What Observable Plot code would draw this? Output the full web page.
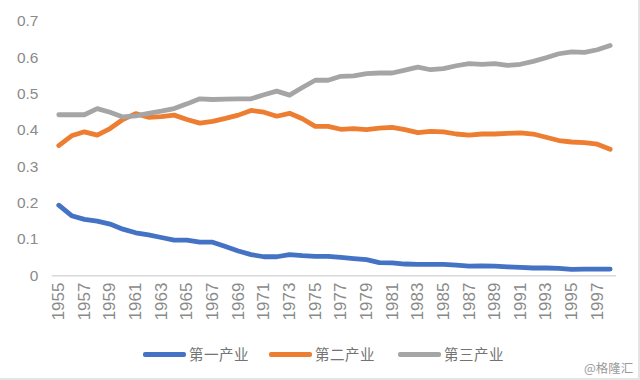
<!DOCTYPE html>
<html>
<head>
<meta charset="utf-8">
<script src="https://cdn.jsdelivr.net/npm/d3@7"></script>
<script src="https://cdn.jsdelivr.net/npm/@observablehq/plot@0.6"></script>
<style>
  html, body { margin: 0; padding: 0; background: #fff; }
  #wrap { position: relative; width: 640px; height: 380px; box-sizing: border-box; border-right: 2px solid #e4e4e4; border-bottom: 2px solid #e4e4e4; overflow: hidden; font-family: "Liberation Sans", "Noto Sans CJK SC", sans-serif; }
  #legend { position: absolute; left: 0; top: 340px; width: 640px; height: 28px; }
  .sw { position: absolute; top: 12px; height: 5px; border-radius: 2px; }
  .lt { position: absolute; top: 3px; font-family: "Noto Sans CJK SC", sans-serif; font-size: 14.5px; color: #737373; letter-spacing: 0.5px; }
  #credit { position: absolute; left: 584px; top: 358px; font-family: "Noto Sans CJK SC", sans-serif; font-size: 12.5px; color: #9a9a9a; }
</style>
</head>
<body>
<div id="wrap">
  <div id="chart"></div>
  <div id="legend"></div>
  <div id="credit">@格隆汇</div>
</div>
<script>
const years = [1955,1956,1957,1958,1959,1960,1961,1962,1963,1964,
               1965,1966,1967,1968,1969,1970,1971,1972,1973,1974,
               1975,1976,1977,1978,1979,1980,1981,1982,1983,1984,
               1985,1986,1987,1988,1989,1990,1991,1992,1993,1994,
               1995,1996,1997,1998];
const seriesNames = ["第一产业", "第二产业", "第三产业"];
const seriesColors = ["#4472C4", "#ED7D31", "#A5A5A5"];
const primary = [0.194,0.165,0.155,0.150,0.142,0.128,0.118,0.112,0.105,0.098,
                 0.098,0.092,0.092,0.080,0.068,0.058,0.052,0.052,0.058,0.055,
                 0.053,0.053,0.050,0.047,0.044,0.036,0.035,0.032,0.031,0.031,
                 0.031,0.029,0.026,0.027,0.026,0.024,0.023,0.021,0.021,0.020,
                 0.017,0.018,0.018,0.018];
const secondary = [0.358,0.385,0.396,0.387,0.405,0.430,0.446,0.436,0.438,0.442,
                   0.430,0.420,0.425,0.433,0.442,0.455,0.450,0.439,0.447,0.432,
                   0.411,0.411,0.403,0.405,0.402,0.406,0.408,0.402,0.394,0.397,
                   0.396,0.390,0.387,0.390,0.390,0.392,0.393,0.390,0.381,0.372,
                   0.368,0.366,0.362,0.348];
const tertiary = [0.443,0.443,0.443,0.460,0.450,0.437,0.440,0.447,0.453,0.460,
                  0.473,0.487,0.485,0.486,0.487,0.487,0.498,0.508,0.497,0.518,
                  0.538,0.538,0.549,0.550,0.556,0.558,0.558,0.566,0.574,0.567,
                  0.570,0.578,0.584,0.582,0.584,0.579,0.582,0.590,0.600,0.611,
                  0.616,0.615,0.622,0.634];
const xTicks = [1955,1957,1959,1961,1963,1965,1967,1969,1971,1973,1975,
                1977,1979,1981,1983,1985,1987,1989,1991,1993,1995,1997];
const yTicks = [0,0.1,0.2,0.3,0.4,0.5,0.6,0.7];

const seriesValues = [primary, secondary, tertiary];
const data = [];
seriesNames.forEach((name, i) => {
  years.forEach((yr, j) => data.push({ series: name, year: yr, value: seriesValues[i][j] }));
});

const chart = Plot.plot({
  width: 640,
  height: 340,
  marginLeft: 52,
  marginRight: 22,
  marginTop: 21,
  marginBottom: 64,
  style: { fontFamily: "'Liberation Sans', 'Noto Sans CJK SC', sans-serif", fontSize: "15px", color: "#8a8a8a", background: "transparent" },
  x: { domain: [years[0] - 0.5, years[years.length - 1] + 0.5] },
  y: { domain: [0, 0.7] },
  color: { domain: seriesNames, range: seriesColors },
  marks: [
    Plot.ruleY([0], { stroke: "#d9d9d9", strokeWidth: 1.5 }),
    Plot.axisY({ ticks: yTicks, tickSize: 0, tickPadding: 14, tickFormat: d => d === 0 ? "0" : d.toFixed(1), label: null, fontSize: 15.5 }),
    Plot.axisX({ ticks: xTicks, tickSize: 0, tickPadding: 7, tickRotate: -90, tickFormat: d => String(d), label: null, fontSize: 17 }),
    Plot.lineY(data, { x: "year", y: "value", z: "series", stroke: "series", strokeWidth: 4.8, strokeLinejoin: "round", strokeLinecap: "round" })
  ]
});
document.getElementById("chart").appendChild(chart);

const legend = document.getElementById("legend");
const swLeft = [143, 269, 398];
seriesNames.forEach((name, i) => {
  const sw = document.createElement("div");
  sw.className = "sw";
  sw.style.left = swLeft[i] + "px";
  sw.style.width = "43px";
  sw.style.background = seriesColors[i];
  legend.appendChild(sw);
  const t = document.createElement("div");
  t.className = "lt";
  t.style.left = (swLeft[i] + 46) + "px";
  t.textContent = name;
  legend.appendChild(t);
});
</script>
</body>
</html>
